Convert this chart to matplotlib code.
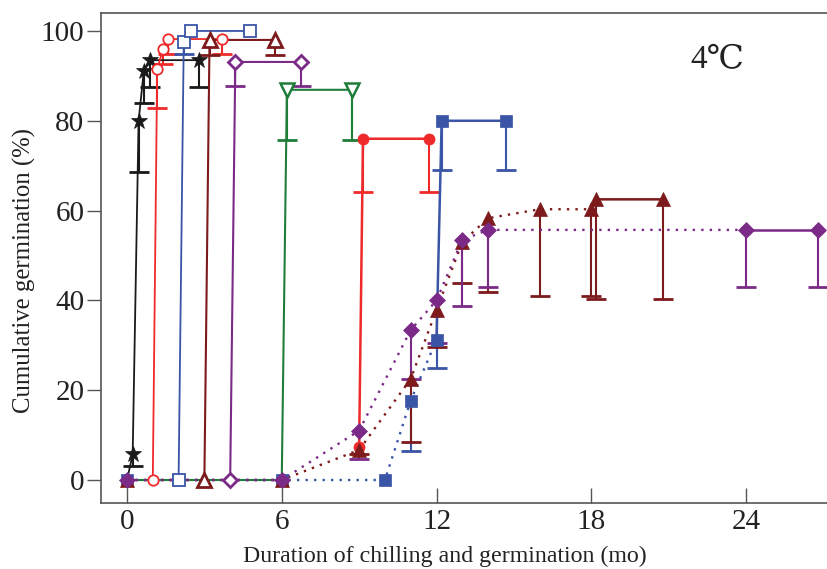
import matplotlib
matplotlib.use("Agg")
import matplotlib.pyplot as plt
import numpy as np

# ---------------- data ----------------
# open-marker series (x in months, y = cumulative germination %, lo = lower error bound)
star_x = [0, 0.22, 0.45, 0.65, 0.9, 2.8]
star_y = [0, 5.7, 80, 91, 93.5, 93.5]
star_lo = [0, 3.1, 68.6, 84, 87.5, 87.5]

redo_x = [1.0, 1.17, 1.4, 1.6, 3.7]
redo_y = [0, 91.5, 96, 98.2, 98.2]
redo_lo = [0, 82.8, 92.6, 94.9, 94.9]

blueo_x = [2.0, 2.2, 2.47, 4.77]
blueo_y = [0, 97.5, 100, 100]
blueo_lo = [0, 94.9, 100, 100]

maro_x = [3.0, 3.2, 5.74]
maro_y = [0, 98, 98]
maro_lo = [0, 94.6, 94.6]

purpo_x = [4.0, 4.2, 6.73]
purpo_y = [0, 93.1, 93.1]
purpo_lo = [0, 87.8, 87.8]

greeno_x = [0, 6.0, 6.2, 8.72]
greeno_y = [0, 0, 86.9, 86.9]
greeno_lo = [0, 0, 75.7, 75.7]

# filled-marker series
redf_x = [6, 9, 9.15, 11.7]
redf_y = [0, 7.4, 76, 76]
redf_lo = [0, 7.4, 64.2, 64.2]

bluef_x = [0, 6, 10, 11, 12, 12.2, 14.7]
bluef_y = [0, 0, 0, 17.7, 31.2, 80, 80]
bluef_lo = [0, 0, 0, 6.5, 25, 69, 69]

marf_x = [0, 6, 9, 11, 12, 13, 14, 16, 18, 18.2, 20.8]
marf_y = [0, 0, 6.7, 22.5, 37.9, 53, 58.3, 60.3, 60.3, 62.5, 62.5]
marf_lo = [0, 0, 5.8, 8.5, 29.6, 43.9, 41.9, 41, 41, 40.3, 40.3]

purpf_x = [0, 6, 9, 11, 12, 13, 14, 24, 26.8]
purpf_y = [0, 0, 11.0, 33.4, 40, 53.5, 55.7, 55.7, 55.7]
purpf_lo = [0, 0, 4.7, 22.5, 30.5, 38.8, 43, 43, 43]

xticks = [0, 6, 12, 18, 24]
yticks = [0, 20, 40, 60, 80, 100]

BLACK = '#1a1a1a'
RED = '#ee2a2a'
BLUE = '#3a54a6'
MAROON = '#7d1a1c'
PURPLE = '#7b2a88'
GREEN = '#1f7d3a'

plt.rcParams['font.family'] = ['Liberation Serif', 'DejaVu Serif']

fig = plt.figure(figsize=(8.27, 5.69), dpi=100)
ax = fig.add_axes([101/827, 1-503/569, 726/827, 490/569])
ax.set_xlim(-1.008, 27.14)
ax.set_ylim(-5.12, 104.0)


def errs(ax, x, y, lo, color, lw=1.5, cap=14, capw=2.0):
    x = np.asarray(x, float); y = np.asarray(y, float); lo = np.asarray(lo, float)
    m = lo < y - 0.01
    ax.vlines(x[m], lo[m], y[m], colors=color, lw=lw, zorder=2)
    ax.plot(x[m], lo[m], ls='none', marker='_', ms=cap, mew=capw, color=color, zorder=2)


def series(ax, x, y, lo, color, marker, ms, filled, mew=1.4, lw=1.3,
           solid_from=0, line_from=0, elw=1.5, mark_from=0):
    x = np.asarray(x, float); y = np.asarray(y, float)
    errs(ax, x, y, lo, color, lw=elw)
    if solid_from > line_from:
        ax.plot(x[line_from:solid_from + 1], y[line_from:solid_from + 1], color=color,
                lw=1.7, ls=(0, (1, 2.6)), zorder=3)
    ax.plot(x[max(solid_from, line_from):], y[max(solid_from, line_from):],
            color=color, lw=lw, zorder=3)
    ax.plot(x[mark_from:], y[mark_from:], ls='none', marker=marker, ms=ms,
            mfc=color if filled else 'white', mec=color, mew=mew, zorder=4)


# open series
series(ax, greeno_x, greeno_y, greeno_lo, GREEN, 'v', 10, False, mew=1.8, lw=1.5,
       mark_from=2)
series(ax, star_x, star_y, star_lo, BLACK, '*', 12, True, mew=0.5, lw=1.3, mark_from=1)
series(ax, redo_x, redo_y, redo_lo, RED, 'o', 7.5, False, mew=1.3, lw=1.3)
series(ax, blueo_x, blueo_y, blueo_lo, BLUE, 's', 8, False, mew=1.3, lw=1.3)
series(ax, maro_x, maro_y, maro_lo, MAROON, '^', 9.5, False, mew=2.0, lw=1.5)
series(ax, purpo_x, purpo_y, purpo_lo, PURPLE, 'D', 7.5, False, mew=2.0, lw=1.5)

# filled series
series(ax, redf_x, redf_y, redf_lo, RED, 'o', 8, True, mew=0.5, lw=1.8, line_from=1)
series(ax, bluef_x, bluef_y, bluef_lo, BLUE, 's', 8.5, True, mew=0.5, lw=1.8, solid_from=4)
series(ax, marf_x, marf_y, marf_lo, MAROON, '^', 10, True, mew=0.5, lw=1.8, solid_from=8)
series(ax, purpf_x, purpf_y, purpf_lo, PURPLE, 'D', 8, True, mew=0.5, lw=1.8, solid_from=7)

# axes styling
for s in ['left', 'bottom', 'top']:
    ax.spines[s].set_color('#555555')
    ax.spines[s].set_linewidth(1.2)
ax.spines['right'].set_visible(False)

ax.set_xticks(xticks)
ax.set_yticks(yticks)
ax.tick_params(axis='x', direction='in', length=11, width=1.0, color='#555555',
               pad=4, labelsize=21, labelcolor='#222222')
ax.tick_params(axis='y', direction='out', length=10, width=1.0, color='#555555',
               pad=2, labelsize=21, labelcolor='#222222')
ax.tick_params(top=False, right=False)

ax.set_xlabel('Duration of chilling and germination (mo)', fontsize=17.2,
              color='#222222')
ax.xaxis.set_label_coords(0.473, -0.108)
ax.xaxis.label.set_verticalalignment('center')
ax.set_ylabel('Cumulative germination (%)', fontsize=17.8, color='#222222')
ax.yaxis.set_label_coords(-0.105, 0.4755)
ax.yaxis.label.set_verticalalignment('center')

ax.text(0.8485, 0.905, '4℃', transform=ax.transAxes, ha='center', va='center',
        fontsize=24, color='#222222',
        family=['Liberation Serif', 'DejaVu Serif', 'Noto Sans CJK SC'])

fig.savefig('out.png', dpi=100)
